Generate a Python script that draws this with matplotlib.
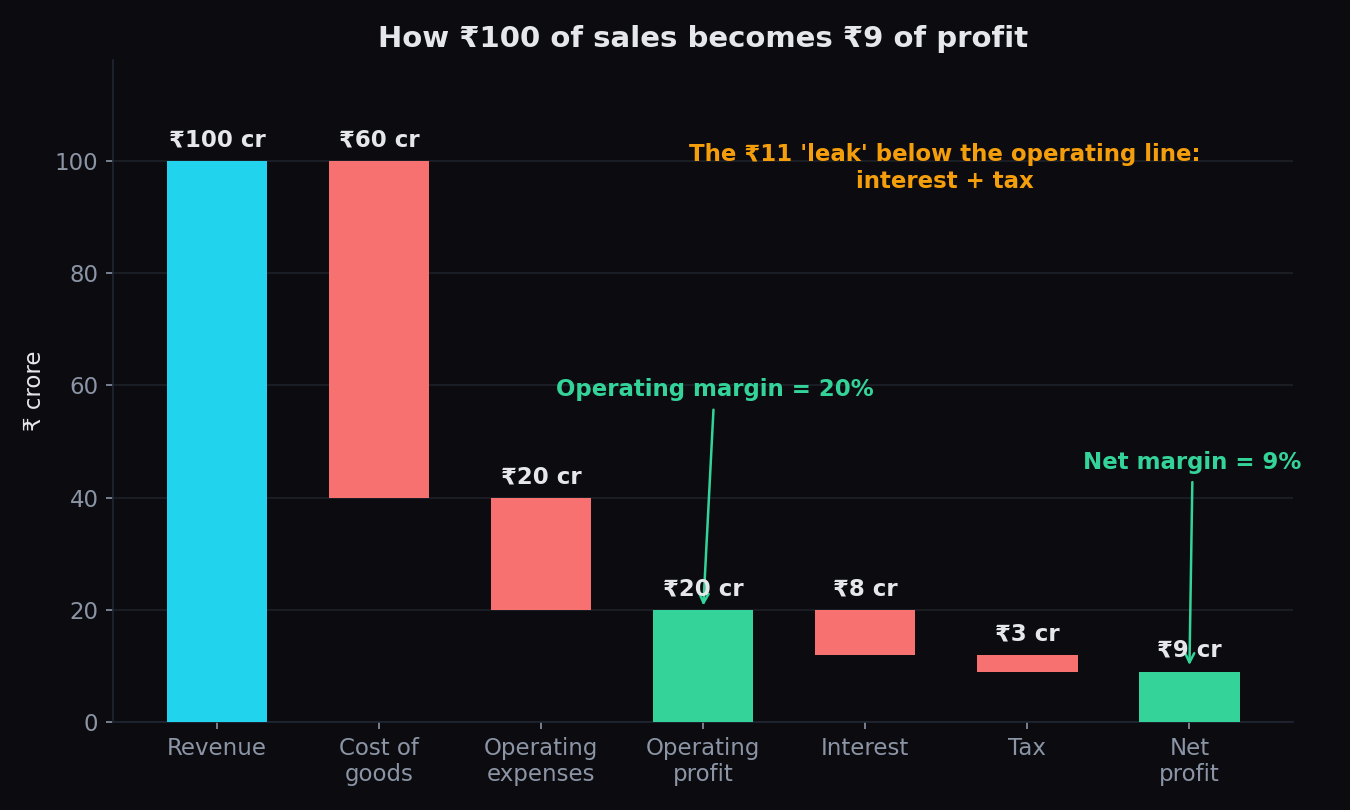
import matplotlib
matplotlib.use("Agg")
import matplotlib.pyplot as plt

categories = ["Revenue", "Cost of\ngoods", "Operating\nexpenses", "Operating\nprofit", "Interest", "Tax", "Net\nprofit"]
amounts = [100, 60, 20, 20, 8, 3, 9]
bottoms = [0, 40, 20, 0, 12, 9, 0]
kinds = ["total", "cost", "cost", "profit", "cost", "cost", "profit"]
value_labels = ["₹100 cr", "₹60 cr", "₹20 cr", "₹20 cr", "₹8 cr", "₹3 cr", "₹9 cr"]
yticks = [0, 20, 40, 60, 80, 100]

BG = "#0b0b10"
colors = {"total": "#22d3ee", "cost": "#f87171", "profit": "#34d399"}
ORANGE = "#f59e0b"
GREEN = "#34d399"
TEXT = "#e5e7eb"
TICK = "#8b95a5"

plt.rcParams['font.family'] = ['DejaVu Sans']
fig = plt.figure(figsize=(9, 5.4), dpi=150, facecolor=BG)
ax = fig.add_axes([0.0837, 0.1086, 0.958 - 0.0837, 0.926 - 0.1086])
ax.set_facecolor(BG)

x = list(range(len(categories)))
ax.bar(x, amounts, bottom=bottoms, width=0.62,
       color=[colors[k] for k in kinds], zorder=3)

for xi, a, b, lab in zip(x, amounts, bottoms, value_labels):
    ax.text(xi, a + b + 1.7, lab, ha="center", va="bottom", fontsize=11,
            fontweight="bold", color=TEXT, zorder=5)

ax.set_ylim(0, 118)
ax.set_yticks(yticks)
ax.set_xticks(x)
ax.set_xticklabels(categories)
ax.tick_params(axis="both", colors=TICK, labelsize=11, labelcolor=TICK)
ax.grid(axis="y", color="#1a1d24", linewidth=1, zorder=0)
ax.set_axisbelow(True)
for s in ["top", "right"]:
    ax.spines[s].set_visible(False)
for s in ["left", "bottom"]:
    ax.spines[s].set_color("#1f2733")
ax.set_ylabel("₹ crore", color=TEXT, fontsize=11)
ax.set_title("How ₹100 of sales becomes ₹9 of profit", color=TEXT,
             fontsize=14, fontweight="bold", pad=6)

ax.annotate("Operating margin = 20%", xy=(3, 20), xytext=(3.07, 59.2),
            ha="center", va="center", fontsize=11, fontweight="bold", color=GREEN,
            arrowprops=dict(arrowstyle="->", color=GREEN, lw=1.2))
ax.annotate("Net margin = 9%", xy=(6, 9.4), xytext=(6.02, 46.3),
            ha="center", va="center", fontsize=11, fontweight="bold", color=GREEN,
            arrowprops=dict(arrowstyle="->", color=GREEN, lw=1.2))
ax.text(4.49, 98.7, "The ₹11 'leak' below the operating line:\ninterest + tax",
        ha="center", va="center", fontsize=11, fontweight="bold", color=ORANGE)

fig.savefig("out.png", dpi=150, facecolor=BG)
